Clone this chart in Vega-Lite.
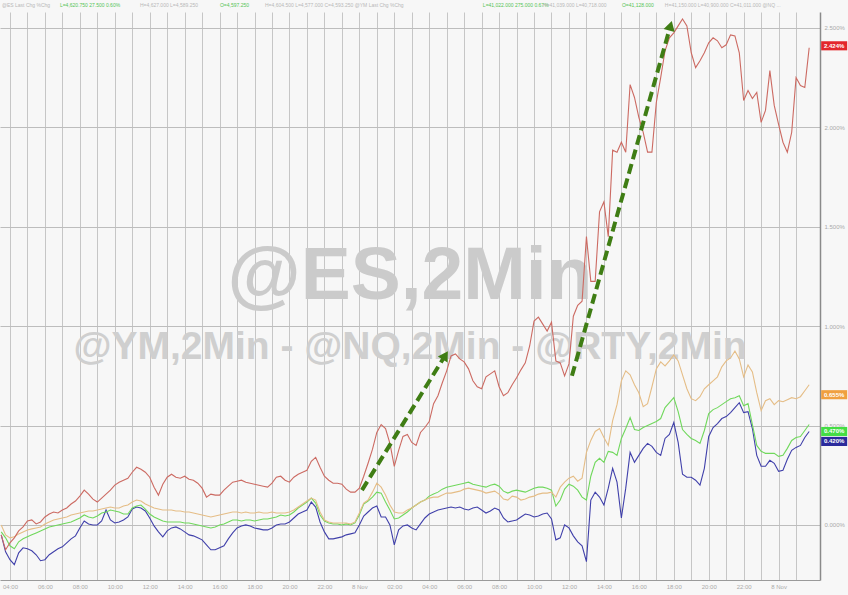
{
"$schema": "https://vega.github.io/schema/vega-lite/v6.json",
"width": 820, "height": 568,
"autosize": {"type": "none"},
"padding": {"left": 0, "top": 12, "right": 28, "bottom": 15},
"background": "#f7f7f7",
"config": {"view": {"stroke": null, "fill": "#f7f7f7"}, "font": "Liberation Sans"},
"datasets": {
"prices": [
{"t":-0.5,"NQ":-5,"RTY":0,"ES":-3.5,"YM":-5},
{"t":-0.25,"NQ":-12.5,"RTY":-5,"ES":-6.5,"YM":-13.5},
{"t":0,"NQ":-9,"RTY":-6.5,"ES":-10.5,"YM":-17.5},
{"t":0.25,"NQ":-6.5,"RTY":-6,"ES":-12,"YM":-20},
{"t":0.5,"NQ":-3,"RTY":-4.5,"ES":-8.5,"YM":-14},
{"t":0.75,"NQ":-1,"RTY":-3.5,"ES":-7,"YM":-11.5},
{"t":1,"NQ":2,"RTY":-2.5,"ES":-6,"YM":-12},
{"t":1.25,"NQ":2.5,"RTY":-2,"ES":-5,"YM":-13},
{"t":1.5,"NQ":0.5,"RTY":-1.5,"ES":-4,"YM":-15},
{"t":1.75,"NQ":1.5,"RTY":-1,"ES":-3,"YM":-18},
{"t":2,"NQ":4,"RTY":0.5,"ES":-2,"YM":-17.5},
{"t":2.25,"NQ":5.5,"RTY":1.5,"ES":-1,"YM":-15},
{"t":2.5,"NQ":6.5,"RTY":2.5,"ES":-0.5,"YM":-13.5},
{"t":2.75,"NQ":6,"RTY":3,"ES":0,"YM":-12},
{"t":3,"NQ":7.5,"RTY":3.5,"ES":0.5,"YM":-11},
{"t":3.25,"NQ":8.5,"RTY":4,"ES":1,"YM":-9},
{"t":3.5,"NQ":10.5,"RTY":5,"ES":1.5,"YM":-7},
{"t":3.75,"NQ":12,"RTY":5.5,"ES":2.5,"YM":-5.5},
{"t":4,"NQ":14.5,"RTY":6,"ES":3.5,"YM":-1.5},
{"t":4.25,"NQ":17.5,"RTY":6.5,"ES":5,"YM":2},
{"t":4.5,"NQ":15.5,"RTY":7,"ES":4,"YM":0.5},
{"t":4.75,"NQ":13,"RTY":7,"ES":3.5,"YM":0},
{"t":5,"NQ":11.5,"RTY":7.5,"ES":4.5,"YM":0},
{"t":5.25,"NQ":13.5,"RTY":8,"ES":6,"YM":2},
{"t":5.5,"NQ":15.5,"RTY":8.5,"ES":6.5,"YM":7.5},
{"t":5.75,"NQ":17.5,"RTY":9,"ES":7.5,"YM":2.5},
{"t":6,"NQ":20,"RTY":8.5,"ES":7,"YM":1},
{"t":6.25,"NQ":21.5,"RTY":8.5,"ES":6.5,"YM":1.5},
{"t":6.5,"NQ":22.5,"RTY":9.5,"ES":5.5,"YM":2.5},
{"t":6.75,"NQ":23.5,"RTY":10,"ES":5.5,"YM":4},
{"t":7,"NQ":26.5,"RTY":11.5,"ES":8.5,"YM":8},
{"t":7.25,"NQ":29,"RTY":12.5,"ES":9.5,"YM":9},
{"t":7.5,"NQ":28,"RTY":12,"ES":10,"YM":8.5},
{"t":7.75,"NQ":26.5,"RTY":10.5,"ES":8,"YM":7},
{"t":8,"NQ":24,"RTY":9.5,"ES":5.5,"YM":3.5},
{"t":8.25,"NQ":19,"RTY":8.5,"ES":4,"YM":-0.5},
{"t":8.5,"NQ":15,"RTY":8,"ES":3,"YM":-3.5},
{"t":8.75,"NQ":20.5,"RTY":7.5,"ES":2,"YM":-6},
{"t":9,"NQ":24,"RTY":7.5,"ES":1.5,"YM":-3},
{"t":9.25,"NQ":25.5,"RTY":7.5,"ES":1.5,"YM":-1.5},
{"t":9.5,"NQ":24,"RTY":7,"ES":1.5,"YM":-1},
{"t":9.75,"NQ":23.5,"RTY":7,"ES":1.5,"YM":-2},
{"t":10,"NQ":24.5,"RTY":6.5,"ES":1,"YM":-3.5},
{"t":10.25,"NQ":23,"RTY":6.5,"ES":1,"YM":-5},
{"t":10.5,"NQ":22.5,"RTY":6,"ES":0.5,"YM":-5.5},
{"t":10.75,"NQ":21,"RTY":5.5,"ES":0,"YM":-6.5},
{"t":11,"NQ":18.5,"RTY":5,"ES":-0.5,"YM":-7.5},
{"t":11.25,"NQ":14,"RTY":4.5,"ES":-1,"YM":-10},
{"t":11.5,"NQ":15.5,"RTY":4,"ES":-1.5,"YM":-12.5},
{"t":11.75,"NQ":15,"RTY":4.5,"ES":-1,"YM":-12.5},
{"t":12,"NQ":15,"RTY":5,"ES":0,"YM":-11.5},
{"t":12.25,"NQ":17.5,"RTY":5.5,"ES":0.5,"YM":-10.5},
{"t":12.5,"NQ":19.5,"RTY":6,"ES":1.5,"YM":-7},
{"t":12.75,"NQ":21.5,"RTY":6.5,"ES":2.5,"YM":-4},
{"t":13,"NQ":22,"RTY":6.5,"ES":2.5,"YM":-1.5},
{"t":13.25,"NQ":22.5,"RTY":6,"ES":2,"YM":-0.5},
{"t":13.5,"NQ":21.5,"RTY":6.5,"ES":2.5,"YM":0},
{"t":13.75,"NQ":21,"RTY":6,"ES":2.5,"YM":-0.5},
{"t":14,"NQ":20.5,"RTY":6,"ES":2,"YM":-1.5},
{"t":14.25,"NQ":20,"RTY":6.5,"ES":2.5,"YM":-2},
{"t":14.5,"NQ":19.5,"RTY":6,"ES":3,"YM":-2.5},
{"t":14.75,"NQ":19,"RTY":6,"ES":3,"YM":-2.5},
{"t":15,"NQ":21,"RTY":6.5,"ES":3.5,"YM":-1.5},
{"t":15.25,"NQ":24,"RTY":6,"ES":4,"YM":0},
{"t":15.5,"NQ":24.5,"RTY":6,"ES":5,"YM":0.5},
{"t":15.75,"NQ":22.5,"RTY":6,"ES":4.5,"YM":0.5},
{"t":16,"NQ":21.5,"RTY":6.5,"ES":5,"YM":1.5},
{"t":16.25,"NQ":24,"RTY":7.5,"ES":6.5,"YM":3.5},
{"t":16.5,"NQ":25.5,"RTY":9,"ES":8.5,"YM":5.5},
{"t":16.75,"NQ":26.5,"RTY":10.5,"ES":10,"YM":6.5},
{"t":17,"NQ":27.5,"RTY":12,"ES":11.5,"YM":7.5},
{"t":17.25,"NQ":32,"RTY":13.5,"ES":13.5,"YM":11.5},
{"t":17.5,"NQ":34,"RTY":12.5,"ES":11,"YM":9},
{"t":17.75,"NQ":29,"RTY":6.5,"ES":5,"YM":1.5},
{"t":18,"NQ":24.5,"RTY":2.5,"ES":2,"YM":-3.5},
{"t":18.25,"NQ":22.5,"RTY":1.5,"ES":1,"YM":-7},
{"t":18.5,"NQ":21,"RTY":1,"ES":0.5,"YM":-7},
{"t":18.75,"NQ":21,"RTY":1,"ES":0.5,"YM":-6.5},
{"t":19,"NQ":20.5,"RTY":1,"ES":0,"YM":-6},
{"t":19.25,"NQ":18,"RTY":1,"ES":0.5,"YM":-5},
{"t":19.5,"NQ":16.5,"RTY":0.5,"ES":0,"YM":-4.5},
{"t":19.75,"NQ":16.5,"RTY":1.5,"ES":1,"YM":-4},
{"t":20,"NQ":18.5,"RTY":6,"ES":5,"YM":0},
{"t":20.25,"NQ":24.5,"RTY":11,"ES":10.5,"YM":4.5},
{"t":20.5,"NQ":31,"RTY":12.5,"ES":12,"YM":6.5},
{"t":20.75,"NQ":38,"RTY":16.5,"ES":14,"YM":8.5},
{"t":21,"NQ":46.5,"RTY":21,"ES":16.5,"YM":9.5},
{"t":21.25,"NQ":50.5,"RTY":19,"ES":16,"YM":4},
{"t":21.5,"NQ":48.5,"RTY":15,"ES":11.5,"YM":4},
{"t":21.75,"NQ":41,"RTY":10,"ES":7.5,"YM":0},
{"t":22,"NQ":29.5,"RTY":6.5,"ES":3,"YM":-10},
{"t":22.25,"NQ":37.5,"RTY":6,"ES":3.5,"YM":-2.5},
{"t":22.5,"NQ":44.5,"RTY":6,"ES":5,"YM":-0.5},
{"t":22.75,"NQ":45.5,"RTY":7.5,"ES":6.5,"YM":0},
{"t":23,"NQ":41.5,"RTY":8.5,"ES":8.5,"YM":-1.5},
{"t":23.25,"NQ":40,"RTY":10,"ES":10,"YM":-2.5},
{"t":23.5,"NQ":46.5,"RTY":11.5,"ES":11.5,"YM":0.5},
{"t":23.75,"NQ":49,"RTY":12.5,"ES":12.5,"YM":3.5},
{"t":24,"NQ":52,"RTY":13.5,"ES":14.5,"YM":5.5},
{"t":24.25,"NQ":61,"RTY":14,"ES":15.5,"YM":6.5},
{"t":24.5,"NQ":65,"RTY":14,"ES":16.5,"YM":7.5},
{"t":24.75,"NQ":71.5,"RTY":15,"ES":18,"YM":8},
{"t":25,"NQ":77.5,"RTY":16,"ES":19,"YM":8.5},
{"t":25.25,"NQ":85,"RTY":16,"ES":19.5,"YM":9},
{"t":25.5,"NQ":86,"RTY":16.5,"ES":20,"YM":8.5},
{"t":25.75,"NQ":83.5,"RTY":17,"ES":20.5,"YM":9},
{"t":26,"NQ":82,"RTY":18,"ES":21,"YM":8},
{"t":26.25,"NQ":78.5,"RTY":18.5,"ES":21.5,"YM":7.5},
{"t":26.5,"NQ":72.5,"RTY":18,"ES":20.5,"YM":8.5},
{"t":26.75,"NQ":69.5,"RTY":17.5,"ES":20,"YM":9},
{"t":27,"NQ":68.5,"RTY":17,"ES":19.5,"YM":7.5},
{"t":27.25,"NQ":74.5,"RTY":16,"ES":19,"YM":6},
{"t":27.5,"NQ":76,"RTY":16.5,"ES":20,"YM":7},
{"t":27.75,"NQ":77.5,"RTY":17,"ES":20.5,"YM":8.5},
{"t":28,"NQ":69.5,"RTY":15.5,"ES":19.5,"YM":7.5},
{"t":28.25,"NQ":65,"RTY":13,"ES":17,"YM":3.5},
{"t":28.5,"NQ":66.5,"RTY":12.5,"ES":16,"YM":1.5},
{"t":28.75,"NQ":70.5,"RTY":14.5,"ES":17,"YM":2},
{"t":29,"NQ":74,"RTY":14,"ES":17.5,"YM":2.5},
{"t":29.25,"NQ":78,"RTY":12.5,"ES":17,"YM":4},
{"t":29.5,"NQ":81.5,"RTY":13,"ES":16.5,"YM":5.5},
{"t":29.75,"NQ":90,"RTY":14,"ES":17.5,"YM":5},
{"t":30,"NQ":102.5,"RTY":14.5,"ES":18.5,"YM":4},
{"t":30.25,"NQ":104.5,"RTY":15.5,"ES":19,"YM":4.5},
{"t":30.5,"NQ":101,"RTY":16,"ES":19,"YM":5.5},
{"t":30.75,"NQ":97.5,"RTY":16,"ES":18.5,"YM":6},
{"t":31,"NQ":102,"RTY":16.5,"ES":17.5,"YM":3},
{"t":31.25,"NQ":82.5,"RTY":14,"ES":9.5,"YM":-7.5},
{"t":31.5,"NQ":81.5,"RTY":19,"ES":12.5,"YM":-6.5},
{"t":31.75,"NQ":75,"RTY":21.5,"ES":18,"YM":0},
{"t":32,"NQ":81,"RTY":23.5,"ES":20.5,"YM":-1.5},
{"t":32.25,"NQ":105,"RTY":24.5,"ES":19.5,"YM":-5.5},
{"t":32.5,"NQ":110.5,"RTY":22,"ES":17.5,"YM":-8.5},
{"t":32.75,"NQ":112.5,"RTY":23.5,"ES":14,"YM":-10.5},
{"t":33,"NQ":145,"RTY":36.5,"ES":12.5,"YM":-18.5},
{"t":33.25,"NQ":122.5,"RTY":42.5,"ES":24.5,"YM":12.5},
{"t":33.5,"NQ":122.5,"RTY":47,"ES":31.5,"YM":16.5},
{"t":33.75,"NQ":157.5,"RTY":48.5,"ES":33.5,"YM":14},
{"t":34,"NQ":162.5,"RTY":44,"ES":31.5,"YM":10},
{"t":34.25,"NQ":145,"RTY":40,"ES":37,"YM":18.5},
{"t":34.5,"NQ":188.5,"RTY":52.5,"ES":36.5,"YM":28.5},
{"t":34.75,"NQ":187.5,"RTY":60.5,"ES":35,"YM":21.5},
{"t":35,"NQ":192.5,"RTY":72.5,"ES":43.5,"YM":3.5},
{"t":35.25,"NQ":187.5,"RTY":77.5,"ES":48.5,"YM":18.5},
{"t":35.5,"NQ":221.5,"RTY":75.5,"ES":54,"YM":36.5},
{"t":35.75,"NQ":215,"RTY":70.5,"ES":48,"YM":31.5},
{"t":36,"NQ":205,"RTY":66.5,"ES":47.5,"YM":35},
{"t":36.25,"NQ":197.5,"RTY":59.5,"ES":49,"YM":38.5},
{"t":36.5,"NQ":187.5,"RTY":61,"ES":50,"YM":41},
{"t":36.75,"NQ":187.5,"RTY":69.5,"ES":51,"YM":39.5},
{"t":37,"NQ":212.5,"RTY":78.5,"ES":52,"YM":36.5},
{"t":37.25,"NQ":225,"RTY":82,"ES":53.5,"YM":35},
{"t":37.5,"NQ":238.5,"RTY":80,"ES":59,"YM":43.5},
{"t":37.75,"NQ":245,"RTY":82.5,"ES":61.5,"YM":45.5},
{"t":38,"NQ":247.5,"RTY":85.5,"ES":64,"YM":51.5},
{"t":38.25,"NQ":251,"RTY":82.5,"ES":57,"YM":41.5},
{"t":38.5,"NQ":254.5,"RTY":75.5,"ES":48,"YM":25.5},
{"t":38.75,"NQ":251,"RTY":68.5,"ES":45.5,"YM":24},
{"t":39,"NQ":237.5,"RTY":63.5,"ES":43.5,"YM":24},
{"t":39.25,"NQ":230,"RTY":62.5,"ES":42.5,"YM":22.5},
{"t":39.5,"NQ":233.5,"RTY":64.5,"ES":41,"YM":20},
{"t":39.75,"NQ":237.5,"RTY":68.5,"ES":47.5,"YM":28.5},
{"t":40,"NQ":242.5,"RTY":70.5,"ES":56,"YM":44.5},
{"t":40.25,"NQ":245,"RTY":72.5,"ES":58,"YM":49},
{"t":40.5,"NQ":243.5,"RTY":74.5,"ES":59,"YM":51},
{"t":40.75,"NQ":240,"RTY":79.5,"ES":60.5,"YM":53.5},
{"t":41,"NQ":241.5,"RTY":82.5,"ES":62,"YM":54.5},
{"t":41.25,"NQ":246.5,"RTY":84,"ES":63.5,"YM":56.5},
{"t":41.5,"NQ":246,"RTY":87.5,"ES":64,"YM":59},
{"t":41.75,"NQ":237.5,"RTY":83.5,"ES":65,"YM":61.5},
{"t":42,"NQ":213.5,"RTY":74.5,"ES":60,"YM":56.5},
{"t":42.25,"NQ":218.5,"RTY":80.5,"ES":61,"YM":57},
{"t":42.5,"NQ":214.5,"RTY":77,"ES":50.5,"YM":48.5},
{"t":42.75,"NQ":217.5,"RTY":66.5,"ES":40,"YM":35},
{"t":43,"NQ":202.5,"RTY":57.5,"ES":37,"YM":29.5},
{"t":43.25,"NQ":208.5,"RTY":62.5,"ES":36,"YM":29.5},
{"t":43.5,"NQ":228.5,"RTY":63.5,"ES":36,"YM":32.5},
{"t":43.75,"NQ":211,"RTY":60.5,"ES":36,"YM":31},
{"t":44,"NQ":201.5,"RTY":62.5,"ES":34.5,"YM":27},
{"t":44.25,"NQ":192.5,"RTY":62,"ES":35,"YM":27.5},
{"t":44.5,"NQ":187.5,"RTY":63,"ES":38.5,"YM":33},
{"t":44.75,"NQ":197.5,"RTY":64,"ES":42.5,"YM":37.5},
{"t":45,"NQ":225,"RTY":63.5,"ES":44,"YM":39},
{"t":45.25,"NQ":221,"RTY":64.5,"ES":44.5,"YM":40},
{"t":45.5,"NQ":220,"RTY":67.5,"ES":47.5,"YM":44},
{"t":45.75,"NQ":240,"RTY":70.5,"ES":50.5,"YM":47}
],
"arrows": [
{"arrow":"a","end":"tail","t":20.15,"bp":17.5},
{"arrow":"a","end":"tip","t":24.92,"bp":85.3},
{"arrow":"b","end":"tail","t":32.17,"bp":75},
{"arrow":"b","end":"tip","t":37.81,"bp":251.1}
],
"lastValues": [
{"series":"NQ","t":45.75,"bp":241,"text":"2.424%"},
{"series":"RTY","t":45.75,"bp":65.5,"text":"0.655%"},
{"series":"ES","t":45.75,"bp":47,"text":"0.470%"},
{"series":"YM","t":45.75,"bp":42,"text":"0.420%"}
],
"header": [
{"t":-0.46,"bp":261.5,"kind":"name","text":"@ES  Last  Chg  %Chg"},
{"t":2.86,"bp":261.5,"kind":"quote","text":"L=4,620.750  27.500  0.60%"},
{"t":7.44,"bp":261.5,"kind":"name","text":"H=4,627.000  L=4,589.250"},
{"t":12.02,"bp":261.5,"kind":"quote","text":"O=4,597.250"},
{"t":14.6,"bp":261.5,"kind":"name","text":"H=4,604.500  L=4,577.000  C=4,593.250  @YM  Last  Chg  %Chg"},
{"t":27.07,"bp":261.5,"kind":"quote","text":"L=41,022.000  275.000  0.67%"},
{"t":30.51,"bp":261.5,"kind":"name","text":"H=41,039.000  L=40,718.000"},
{"t":35.03,"bp":261.5,"kind":"quote","text":"O=41,128.000"},
{"t":37.49,"bp":261.5,"kind":"name","text":"H=41,150.000  L=40,900.000  C=41,011.000  @NQ  ..."}
]
},
"encoding": {
"x": {"field": "t", "type": "quantitative",
 "scale": {"domain": [-0.57, 46.37], "nice": false, "zero": false},
 "axis": {"title": null, "values": [0,1,2,3,4,5,6,7,8,9,10,11,12,13,14,15,16,17,18,19,20,21,22,23,24,25,26,27,28,29,30,31,32,33,34,35,36,37,38,39,40,41,42,43,44,45],
  "labelExpr": "datum.value % 2 != 0 ? '' : ((datum.value + 4) % 24 == 0 ? '8 Nov' : pad(toString((datum.value + 4) % 24), 2, '0', 'left') + ':00')",
  "grid": true, "gridColor": "#c6c6c6", "gridWidth": 1, "ticks": false,
  "domain": true, "domainColor": "#9a9a9a", "domainWidth": 1,
  "labelFontSize": 6, "labelColor": "#aaaaaa", "labelPadding": 3, "labelFlush": false}},
"y": {"field": "bp", "type": "quantitative",
 "scale": {"domain": [-27.7, 258], "nice": false, "zero": false},
 "axis": {"title": null, "orient": "right", "values": [0,50,100,150,200,250],
  "labelExpr": "format(datum.value / 100, '.3f') + '%'",
  "grid": true, "gridColor": "#bdbdbd", "gridWidth": 1, "ticks": false,
  "domain": true, "domainColor": "#8a8a8a", "domainWidth": 1.5,
  "labelFontSize": 6, "labelColor": "#aaaaaa", "labelPadding": 4}}
},
"layer": [
{"data": {"values": [{"t": 22.9, "bp": 113.5, "text": "@ES,2Min"}]},
 "mark": {"type": "text", "fontSize": 75, "fontWeight": "bold", "color": "#cbcbcb", "align": "center", "baseline": "alphabetic"},
 "encoding": {"text": {"field": "text"}}},
{"data": {"values": [{"t": 22.9, "bp": 83.5, "text": "@YM,2Min - @NQ,2Min - @RTY,2Min"}]},
 "mark": {"type": "text", "fontSize": 39, "fontWeight": "bold", "color": "#cfcfcf", "align": "center", "baseline": "alphabetic"},
 "encoding": {"text": {"field": "text"}}},
{"data": {"name": "prices"},
 "transform": [{"fold": ["YM", "ES", "RTY", "NQ"], "as": ["series", "bp"]}],
 "mark": {"type": "line", "strokeWidth": 1.1, "interpolate": "linear"},
 "encoding": {
  "stroke": {"field": "series", "type": "nominal", "legend": null,
   "scale": {"domain": ["NQ", "RTY", "ES", "YM"], "range": ["#cc6a62", "#e5bd86", "#70d85c", "#4040aa"]}},
  "detail": {"field": "series"}}},
{"data": {"name": "arrows"},
 "mark": {"type": "line", "color": "#3f7d14", "strokeWidth": 4, "strokeDash": [10, 5], "strokeCap": "butt"},
 "encoding": {"detail": {"field": "arrow"}}},
{"data": {"name": "arrows"},
 "transform": [{"filter": "datum.arrow == 'a' && datum.end == 'tip'"}],
 "mark": {"type": "point", "shape": "triangle-up", "filled": true, "color": "#3f7d14", "opacity": 1, "size": 130, "angle": 31.6},
 "encoding": {}},
{"data": {"name": "arrows"},
 "transform": [{"filter": "datum.arrow == 'b' && datum.end == 'tip'"}],
 "mark": {"type": "point", "shape": "triangle-up", "filled": true, "color": "#3f7d14", "opacity": 1, "size": 130, "angle": 15.6},
 "encoding": {}},
{"data": {"name": "lastValues"},
 "mark": {"type": "point", "shape": "M-1,-0.35H1V0.35H-1Z", "filled": true, "opacity": 1, "size": 676, "xOffset": 25},
 "encoding": {
  "fill": {"field": "series", "type": "nominal", "legend": null,
   "scale": {"domain": ["NQ", "RTY", "ES", "YM"], "range": ["#e3262b", "#f0a040", "#44dd44", "#2b2b9c"]}}}},
{"data": {"name": "lastValues"},
 "mark": {"type": "text", "fontSize": 6, "fontWeight": "bold", "color": "#ffffff", "align": "center", "baseline": "middle", "xOffset": 25},
 "encoding": {"text": {"field": "text"}}},
{"data": {"name": "header"},
 "mark": {"type": "text", "fontSize": 5, "align": "left", "baseline": "middle"},
 "encoding": {
  "text": {"field": "text"},
  "color": {"field": "kind", "type": "nominal", "legend": null,
   "scale": {"domain": ["name", "quote"], "range": ["#b8b8b8", "#55c455"]}}}}
]
}
